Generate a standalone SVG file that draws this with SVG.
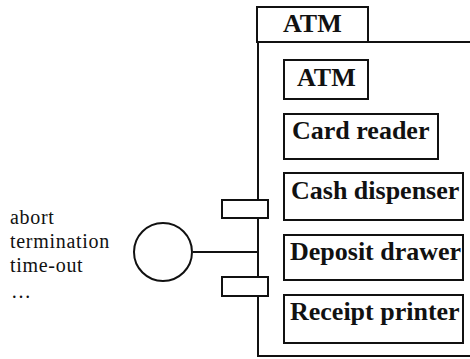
<svg xmlns="http://www.w3.org/2000/svg" width="470" height="359" viewBox="0 0 470 359">
  <style>
    .ln { fill: #fff; stroke: #111; stroke-width: 2; }
    .wire { fill: none; stroke: #111; stroke-width: 2; }
    .lbl { font-family: "Liberation Serif", "Times New Roman", serif; font-weight: bold; font-size: 26px; fill: #111; }
    .evt { font-family: "Liberation Serif", "Times New Roman", serif; font-size: 20px; fill: #111; letter-spacing: 0.7px; }
  </style>
  <rect width="470" height="359" fill="#fff"/>

  <!-- ATM package frame with tab -->
  <g id="atm-package">
    <rect class="ln" x="258" y="42" width="240" height="314"/>
    <rect class="ln" x="257" y="7" width="111" height="35"/>
    <text class="lbl" x="283" y="32">ATM</text>
  </g>

  <!-- contained parts -->
  <g id="atm">
    <rect class="ln" x="284" y="60" width="84" height="39"/>
    <text class="lbl" x="297" y="86">ATM</text>
  </g>
  <g id="card-reader">
    <rect class="ln" x="284" y="114" width="154" height="45"/>
    <text class="lbl" x="292" y="139">Card reader</text>
  </g>
  <g id="cash-dispenser">
    <rect class="ln" x="284" y="173" width="179" height="47"/>
    <text class="lbl" x="291" y="199">Cash dispenser</text>
  </g>
  <g id="deposit-drawer">
    <rect class="ln" x="284" y="235" width="179" height="45"/>
    <text class="lbl" x="290" y="260">Deposit drawer</text>
  </g>
  <g id="receipt-printer">
    <rect class="ln" x="284" y="295" width="179" height="48"/>
    <text class="lbl" x="290" y="320">Receipt printer</text>
  </g>

  <!-- connectors -->
  <g id="connectors">
    <line class="wire" x1="193" y1="252" x2="258" y2="252"/>
  </g>

  <!-- ports on the frame edge -->
  <g id="port-upper">
    <rect class="ln" x="222" y="200" width="46" height="18"/>
  </g>
  <g id="port-lower">
    <rect class="ln" x="222" y="277" width="46" height="19"/>
  </g>

  <!-- interface -->
  <g id="interface">
    <circle class="ln" cx="163" cy="252" r="29"/>
  </g>

  <!-- interface events -->
  <g id="events">
    <text class="evt" x="10" y="224">abort</text>
    <text class="evt" x="10" y="248">termination</text>
    <text class="evt" x="10" y="272">time-out</text>
    <text class="evt" x="11" y="298">…</text>
  </g>
</svg>
